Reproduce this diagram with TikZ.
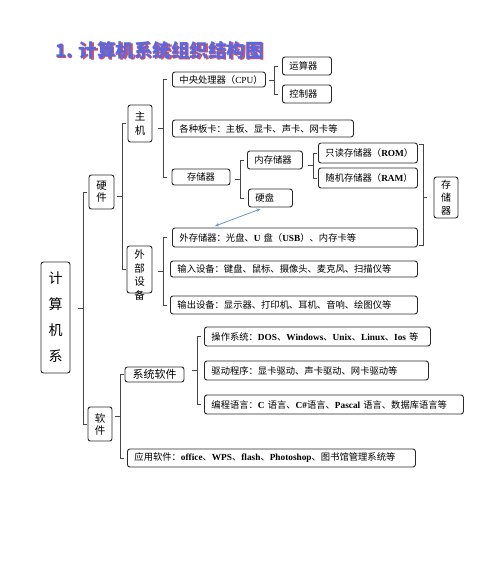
\documentclass[tikz,border=0pt]{standalone}
\usepackage{fontspec}
\setmainfont{Noto Sans CJK SC}
\newfontfamily\lat{Liberation Serif}
\newcommand\la[1]{{\lat\bfseries #1}}
\newcommand\lr[1]{{\lat #1}}
\usetikzlibrary{arrows.meta,calc}
\definecolor{boxc}{RGB}{40,40,40}
\definecolor{brkc}{RGB}{70,70,70}
\definecolor{titleb}{RGB}{88,104,222}
\definecolor{titler}{RGB}{205,80,110}
\definecolor{arrc}{RGB}{105,150,200}
\tikzset{
  bx/.style={draw=boxc,line width=0.9pt,rounded corners=2.5pt,inner ysep=0pt,font=\fontsize{9.3}{11}\selectfont},
  vbx/.style={draw=boxc,line width=0.9pt,rounded corners=2.5pt,inner sep=0pt,align=center},
  brk/.style={draw=brkc,line width=0.7pt},
  ttl/.style={font=\fontsize{18.5}{21}\selectfont\bfseries,anchor=west,inner sep=0pt}
}
% left-aligned box: name x1 y1 x2 y2 text
\newcommand\lbx[6]{%
  \pgfmathsetmacro\tw{#4-#2-14}\pgfmathsetmacro\hh{#5-#3}\pgfmathsetmacro\cy{(#3+#5)/2}%
  \node[bx,anchor=west,inner xsep=7pt,text width=\tw pt,minimum height=\hh pt,align=left] (#1) at (#2,\cy) {#6};}
% centered box
\newcommand\cbx[7]{%
  \pgfmathsetmacro\ww{#4-#2}\pgfmathsetmacro\hh{#5-#3}\pgfmathsetmacro\cx{(#2+#4)/2}\pgfmathsetmacro\cy{(#3+#5)/2}%
  \node[#7,minimum width=\ww pt,minimum height=\hh pt] (#1) at (\cx,\cy) {#6};}
% bracket: spine x, first child, last child
\newcommand\brkt[3]{%
  \coordinate (s) at (#1,0);
  \draw[brk] (#2.west -| s) ++(4,0) -- ++(-4,0) -- (#3.west -| s) -- ++(4,0);
  \draw[brk] ($(#2.west -| s)!0.5!(#3.west -| s)$) -- ++(-5,0);}
\begin{document}
\begin{tikzpicture}[x=1pt,y=-1pt]
\useasboundingbox[fill=white] (0,0) rectangle (500,565);
% title
\node[ttl,text=titler] at (56.5,51.5) {1. 计算机系统组织结构图};
\node[ttl,text=titleb] (title) at (55,50) {1. 计算机系统组织结构图};
% vertical boxes
\cbx{jsj}{41}{262}{70}{373}{计\\算\\机\\系}{vbx,font=\fontsize{14}{26}\selectfont}
\cbx{yj}{89}{175}{114}{209}{硬\\件}{vbx,font=\fontsize{10.5}{12}\selectfont}
\cbx{rj}{88}{407}{112}{441}{软\\件}{vbx,font=\fontsize{10.5}{12}\selectfont}
\cbx{zj}{128}{105}{152}{142}{主\\机}{vbx,font=\fontsize{10.5}{14}\selectfont}
\cbx{wbsb}{127}{246}{152}{293}{}{vbx}
\node[align=center,inner sep=0pt,font=\fontsize{10.5}{13.5}\selectfont] (wbsbt) at (139.5,275) {外\\部\\设\\备};
\cbx{ccq2}{434}{177}{458}{218}{存\\储\\器}{vbx,font=\fontsize{10}{13}\selectfont}
% hardware boxes
\lbx{cpu}{172}{72}{265}{87}{中央处理器（\lr{CPU}）}
\lbx{ysq}{282}{57}{331}{75}{运算器}
\lbx{kzq}{282}{85}{331}{103}{控制器}
\lbx{bk}{172}{120}{353}{137}{各种板卡：主板、显卡、声卡、网卡等}
\cbx{ccq}{172}{169}{230}{185}{存储器}{bx,inner xsep=0pt}
\lbx{ncc}{247}{151}{302}{169}{内存储器}
\lbx{yp}{248}{189}{292}{207}{硬盘}
\lbx{rom}{318}{143}{417}{163}{只读存储器（\la{ROM}）}
\lbx{ram}{318}{168}{417}{188}{随机存储器（\la{RAM}）}
\lbx{wcc}{172}{228}{417}{247}{外存储器：光盘、\la{U} 盘（\la{USB}）、内存卡等}
\lbx{srsb}{170}{261}{417}{277}{输入设备：键盘、鼠标、摄像头、麦克风、扫描仪等}
\lbx{scsb}{170}{296}{417}{314}{输出设备：显示器、打印机、耳机、音响、绘图仪等}
% software boxes
\cbx{xtrj}{125}{367}{184}{382}{系统软件}{bx,inner xsep=0pt,font=\fontsize{11}{12}\selectfont}
\lbx{yyrj}{127}{449}{415}{467}{应用软件：\la{office}、\la{WPS}、\la{flash}、\la{Photoshop}、图书馆管理系统等}
\lbx{czxt}{204}{327}{430}{346}{操作系统：\la{DOS}、\la{Windows}、\la{Unix}、\la{Linux}、\la{Ios} 等}
\lbx{qdcx}{204}{361}{428}{380}{驱动程序：显卡驱动、声卡驱动、网卡驱动等}
\lbx{bcyy}{204}{395}{463}{414}{编程语言：\la{C} 语言、\la{C\#}语言、\la{Pascal} 语言、数据库语言等}
% brackets
\brkt{83}{yj}{rj}
\brkt{122}{zj}{wbsb}
\brkt{163}{cpu}{ccq}
\brkt{274}{ysq}{kzq}
\brkt{240}{ncc}{yp}
\brkt{313}{rom}{ram}
\brkt{163}{wcc}{scsb}
\brkt{120}{xtrj}{yyrj}
\brkt{197}{czxt}{bcyy}
% right bracket for 存储器
\coordinate (r) at (423,0);
\draw[brk] ($(rom.north -| r)+(-4,2)$) -- ++(4,0) -- ($(wcc.south -| r)+(0,-2)$) -- ++(-4,0);
\draw[brk] (ccq2.west -| r) -- ++(4,0);
% arrow
\draw[arrc,line width=0.8pt,{Stealth[length=4pt,width=3.5pt]}-{Stealth[length=4pt,width=3.5pt]}]
  ([xshift=-10pt,yshift=-1.5pt]yp.south) -- ([xshift=43pt,yshift=1.5pt]wcc.north west);
\end{tikzpicture}
\end{document}
